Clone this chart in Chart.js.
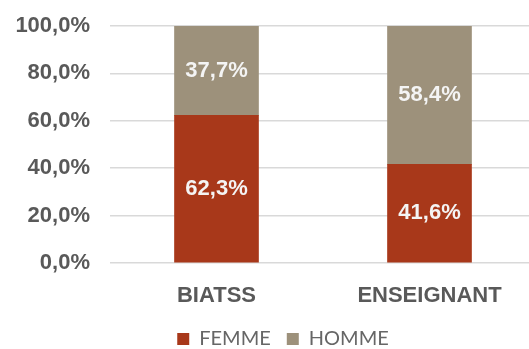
<!DOCTYPE html>
<html>
<head>
<meta charset="utf-8">
<script src="https://cdn.jsdelivr.net/npm/chart.js@4"></script>
<style>
  html, body { margin: 0; padding: 0; background: #fff; overflow: hidden; }
  #boite { width: 536px; height: 359px; }
</style>
</head>
<body>
<div id="boite"><canvas id="graphe" width="536" height="359"></canvas></div>
<script>
const categories = ["BIATSS", "ENSEIGNANT"];
const femme = [62.3, 41.6];
const homme = [37.7, 58.4];
const seriesNoms = ["FEMME", "HOMME"];
const yTicks = [0, 20, 40, 60, 80, 100];

const gris = "#595959";
const pourcent = v => v.toFixed(1).replace(".", ",") + "%";

// etiquettes blanches au centre de chaque segment
const etiquettes = {
    id: "etiquettes",
    afterDatasetsDraw(chart) {
        const ctx = chart.ctx;
        ctx.save();
        ctx.font = "bold 22px 'Liberation Sans', Arial, sans-serif";
        ctx.fillStyle = "#f4f4f4";
        ctx.textAlign = "center";
        ctx.textBaseline = "middle";
        chart.data.datasets.forEach((ds, d) => {
            chart.getDatasetMeta(d).data.forEach((barre, i) => {
                const y = (barre.y + barre.base) / 2;
                ctx.fillText(pourcent(ds.data[i]), barre.x, y);
            });
        });
        ctx.restore();
    }
};

// la legende est un peu decalee a droite dans l'original
const decaleLegende = {
    id: "decaleLegende",
    afterLayout(chart) {
        if (chart.legend) chart.legend.left += 30;
    }
};

new Chart(document.getElementById("graphe"), {
    type: "bar",
    data: {
        labels: categories,
        datasets: [
            { label: seriesNoms[0], data: femme, backgroundColor: "#a8381a", barThickness: 84 },
            { label: seriesNoms[1], data: homme, backgroundColor: "#9d917b", barThickness: 84 }
        ]
    },
    options: {
        responsive: false,
        animation: false,
        layout: { padding: { left: 0, right: 0, top: 26, bottom: 0 } },
        scales: {
            x: {
                stacked: true,
                grid: { display: false },
                border: { display: false },
                ticks: {
                    color: gris,
                    padding: 12,
                    font: { family: "'Liberation Sans', Arial, sans-serif", size: 22, weight: "bold" }
                },
                afterFit: s => { s.height = 50; }
            },
            y: {
                stacked: true,
                min: 0,
                max: 100,
                afterBuildTicks: s => { s.ticks = yTicks.map(v => ({ value: v })); },
                grid: { color: "#d9d9d9", lineWidth: 1.5, drawTicks: false },
                border: { display: false },
                ticks: {
                    color: gris,
                    padding: 20,
                    font: { family: "'Liberation Sans', Arial, sans-serif", size: 22, weight: "bold" },
                    callback: v => pourcent(v)
                },
                afterFit: s => { s.width = 110; s.paddingTop = 0; s.paddingBottom = 0; }
            }
        },
        plugins: {
            legend: {
                position: "bottom",
                labels: {
                    color: "#666666",
                    boxWidth: 12,
                    boxHeight: 12,
                    padding: 16,
                    font: { family: "Lato, 'Open Sans', sans-serif", size: 20 }
                }
            },
            tooltip: { enabled: false }
        }
    },
    plugins: [etiquettes, decaleLegende]
});
</script>
</body>
</html>
